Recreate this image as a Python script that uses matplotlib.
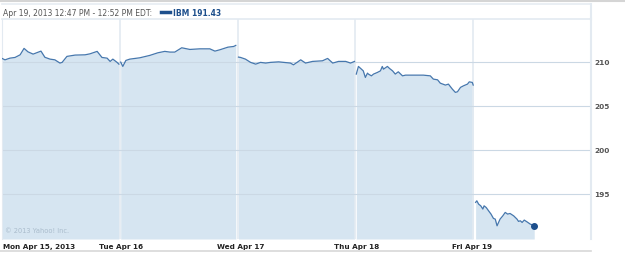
import matplotlib.pyplot as plt
from matplotlib.lines import Line2D

# trading days, minutes after 9:30 open, price
days = ["Mon Apr 15, 2013", "Tue Apr 16", "Wed Apr 17", "Thu Apr 18", "Fri Apr 19"]

mon_min = [0, 10, 26, 43, 60, 73, 86, 103, 129, 142, 159, 175, 192, 199, 215, 242, 275, 291, 315, 331, 348, 358, 367, 381, 387]
mon_px = [210.42, 210.26, 210.45, 210.53, 210.83, 211.56, 211.17, 210.91, 211.25, 210.55, 210.34, 210.26, 209.89, 209.97,
          210.65, 210.80, 210.83, 210.94, 211.22, 210.53, 210.45, 210.08, 210.34, 209.97, 209.77]

tue_min = [3, 10, 20, 33, 66, 99, 126, 149, 166, 182, 205, 232, 265, 298, 315, 331, 358, 377, 384]
tue_px = [210.0, 209.51, 210.19, 210.34, 210.49, 210.76, 211.06, 211.22, 211.14, 211.14, 211.63, 211.44, 211.51, 211.51,
          211.25, 211.40, 211.70, 211.78, 211.90]

wed_min = [3, 10, 26, 43, 60, 76, 93, 109, 136, 175, 185, 209, 225, 248, 281, 298, 315, 334, 358, 374, 387]
wed_px = [210.57, 210.53, 210.34, 209.97, 209.77, 209.97, 209.89, 209.97, 210.03, 209.89, 209.69, 210.26, 209.89, 210.08,
          210.15, 210.42, 209.89, 210.08, 210.08, 209.89, 210.08]

thu_min = [3, 10, 20, 26, 33, 40, 43, 53, 60, 73, 83, 89, 93, 106, 113, 123, 132, 142, 156, 166, 182, 205, 225, 248, 258,
           272, 281, 298, 308, 321, 331, 338, 348, 358, 371, 377, 387, 390]
thu_px = [208.64, 209.51, 209.20, 209.01, 208.26, 208.75, 208.64, 208.44, 208.64, 208.83, 209.01, 209.51, 209.20, 209.51,
          209.28, 209.01, 208.64, 208.90, 208.44, 208.52, 208.52, 208.52, 208.52, 208.44, 208.07, 207.99, 207.61, 207.39,
          207.50, 206.93, 206.56, 206.63, 207.13, 207.31, 207.50, 207.76, 207.69, 207.39]

fri_min = [8, 12, 18, 25, 32, 36, 43, 51, 59, 67, 73, 79, 84, 89, 98, 106, 114, 122, 134, 145, 150, 156, 162, 169, 178, 189, 202]
fri_px = [194.06, 194.24, 193.86, 193.67, 193.30, 193.67, 193.48, 193.10, 192.73, 192.24, 192.16, 191.40, 191.78, 192.16,
          192.53, 192.92, 192.73, 192.80, 192.53, 192.16, 191.90, 191.97, 191.78, 192.05, 191.85, 191.59, 191.43]

sessions = [(mon_min, mon_px), (tue_min, tue_px), (wed_min, wed_px), (thu_min, thu_px), (fri_min, fri_px)]
yticks = [195, 200, 205, 210]
session_len = 390
ylo, yhi = 189.9, 214.9

LINE = '#4677ad'
FILL = '#d6e5f1'

fig = plt.figure(figsize=(6.25, 2.55), dpi=100)
ax = fig.add_axes([2/625, 15/255, 589/625, 220/255])

for i, (mins, px) in enumerate(sessions):
    x = [i + m / session_len for m in mins]
    ax.fill_between(x, px, ylo, color=FILL, lw=0, zorder=1)
    ax.plot(x, px, color=LINE, lw=0.9, zorder=3)

# last price dot
ax.plot(4 + fri_min[-1] / session_len, fri_px[-1], 'o', color='#1d4f8c', ms=4, zorder=4)

ax.set_xlim(0, len(days))
ax.set_ylim(ylo, yhi)
for i in range(1, len(days)):
    ax.axvline(i, color='#e3eaf1', lw=1.2, zorder=2)
for v in yticks:
    ax.axhline(v, color='#cbd8e4', lw=0.8, zorder=2)

ax.set_xticks([])
ax.set_yticks([])
for s in ['top', 'bottom']:
    ax.spines[s].set_visible(False)
ax.spines['left'].set_color('#e3eaf1')
ax.spines['right'].set_color('#e3eaf1')
ax.spines['right'].set_linewidth(1.5)

for v in yticks:
    ax.text(1.006, v, str(v), transform=ax.get_yaxis_transform(), ha='left', va='center',
            fontsize=5.3, fontweight='bold', color='#555555')

# day labels sit a little left of each day boundary (first one at the left edge)
for i, d in enumerate(days):
    xl = 3 if i == 0 else 2 + i * 117.8 - 21
    fig.text(xl / 625, 1 - 247 / 255, d, ha='left', va='center',
             fontsize=5.2, fontweight='bold', color='#222222')

ax.text(0.005, 0.04, '\u00a9 2013 Yahoo! Inc.', transform=ax.transAxes, fontsize=4.8, color='#aabccc', va='center')

# header
fig.add_artist(Line2D([0, 1], [1 - 1.5/255] * 2, color='#d5d5d5', lw=1.5))
fig.add_artist(Line2D([2/625, 591/625], [1 - 5/255] * 2, color='#e6ecf2', lw=1.2))
fig.add_artist(Line2D([2/625, 591/625], [1 - 20/255] * 2, color='#e3eaf1', lw=1.2))
fig.add_artist(Line2D([591/625, 591/625], [1 - 5/255, 1 - 20/255], color='#e3eaf1', lw=1.5))
fig.add_artist(Line2D([0, 591/625], [1 - 252/255] * 2, color='#d8d8d8', lw=1.2))

fig.text(3/625, 1 - 13/255, 'Apr 19, 2013 12:47 PM - 12:52 PM EDT:', ha='left', va='center',
         fontsize=5.5, color='#555555')
fig.add_artist(Line2D([161/625, 170/625], [1 - 12.5/255] * 2, color='#1d4f8c', lw=2.5))
fig.text(173/625, 1 - 13/255, 'IBM 191.43', ha='left', va='center', fontsize=5.5,
         fontweight='bold', color='#1d4f8c')

fig.savefig('out.png', dpi=100)
